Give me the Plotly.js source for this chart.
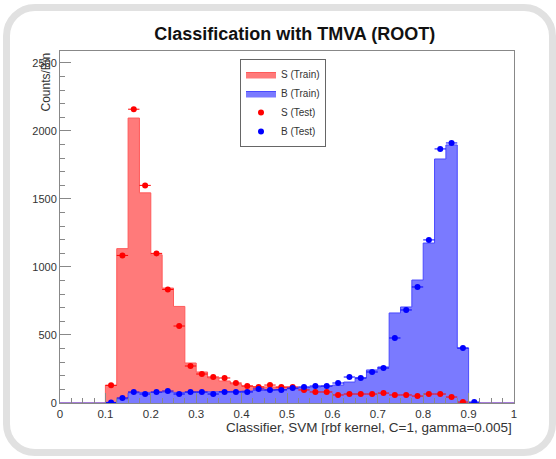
<!DOCTYPE html>
<html>
<head>
<meta charset="utf-8">
<script src="https://cdn.plot.ly/plotly-3.0.1.min.js"></script>
<style>
  html, body { margin: 0; padding: 0; background: #ffffff; }
  #wrap { position: relative; width: 556px; height: 459px; overflow: hidden; background: #fff; }
  #chart { position: absolute; left: 0; top: 0; width: 556px; height: 459px; }
  #frame { position: absolute; left: 3px; top: 4px; width: 553px; height: 452px; box-sizing: border-box;
           border: 7px solid #e1e1e1; border-radius: 32px; pointer-events: none; }
</style>
</head>
<body>
<div id="wrap">
  <div id="chart"></div>
  <div id="frame"></div>
</div>
<script>
// Histogram binning: 40 bins over classifier range [0, 1]
const nBins = 40;
const xMin = 0;
const xMax = 1;

// Signal training histogram (counts per bin, bins 0..39)
const sTrain = [0, 0, 0, 0, 130, 1135, 2095, 1545, 1090, 845,
                710, 294, 228, 184, 162, 140, 125, 118, 118, 114,
                110, 103, 95, 88, 78, 70, 68, 66, 66, 62,
                60, 58, 60, 60, 45, 10, 0, 0, 0, 0];

// Background training histogram
const bTrain = [0, 0, 0, 0, 5, 30, 75, 78, 78, 80,
                78, 80, 80, 82, 84, 86, 88, 92, 95, 100,
                105, 112, 118, 125, 132, 154, 184, 243, 265, 662,
                706, 904, 1176, 1794, 1897, 404, 3, 0, 0, 0];

// Signal test histogram (points)
const sTest = [null, null, null, null, 130, 1085, 2160, 1600, 1100, 835,
               566, 272, 213, 191, 184, 147, 125, 118, 132, 118,
               118, 96, 81, 81, 59, 66, 66, 66, 73, 59,
               59, 51, 66, 66, 44, 7, null, null, null, null];

// Background test histogram (points)
const bTest = [null, null, null, null, 3, 37, 81, 66, 81, 88,
               66, 81, 81, 66, 81, 81, 81, 103, 96, 96,
               110, 118, 125, 125, 147, 191, 184, 228, 257, 478,
               684, 853, 1199, 1868, 1912, 404, 7, null, null, null];

const legendNames = ["S (Train)", "B (Train)", "S (Test)", "B (Test)"];
const xTickVals = [0, 0.1, 0.2, 0.3, 0.4, 0.5, 0.6, 0.7, 0.8, 0.9, 1];
const xTickText = ["0", "0.1", "0.2", "0.3", "0.4", "0.5", "0.6", "0.7", "0.8", "0.9", "1"];
const yTickVals = [0, 500, 1000, 1500, 2000, 2500];
const yTickText = ["0", "500", "1000", "1500", "2000", "2500"];

const binW = (xMax - xMin) / nBins;
const edges = Array.from({length: nBins + 1}, (_, i) => xMin + i * binW);
const centers = Array.from({length: nBins}, (_, i) => xMin + (i + 0.5) * binW);
const stepY = arr => arr.concat([arr[arr.length - 1]]);

const FONT = "Liberation Sans, Arial, Helvetica, sans-serif";

const traces = [
  {
    type: "scatter", mode: "lines", name: legendNames[0],
    x: edges, y: stepY(sTrain),
    line: {shape: "hv", color: "#ff5a5a", width: 1},
    fill: "tozeroy", fillcolor: "#ff7a7a"
  },
  {
    type: "scatter", mode: "lines", name: legendNames[1],
    x: edges, y: stepY(bTrain),
    line: {shape: "hv", color: "#4a4aff", width: 1},
    fill: "tozeroy", fillcolor: "#7a7aff"
  },
  {
    type: "scatter", mode: "markers", name: legendNames[2],
    x: centers, y: sTest,
    marker: {color: "#ff0000", size: 6, symbol: "circle"},
    error_x: {type: "constant", value: binW / 2, color: "#ff0000", thickness: 1, width: 0}
  },
  {
    type: "scatter", mode: "markers", name: legendNames[3],
    x: centers, y: bTest,
    marker: {color: "#0000ff", size: 6, symbol: "circle"},
    error_x: {type: "constant", value: binW / 2, color: "#0000ff", thickness: 1, width: 0}
  }
];

const layout = {
  width: 556, height: 459,
  paper_bgcolor: "#ffffff", plot_bgcolor: "#ffffff",
  margin: {l: 60, r: 42, t: 51, b: 56, pad: 0},
  font: {family: FONT, size: 11, color: "#333"},
  title: {
    text: "<b>Classification with TMVA (ROOT)</b>",
    font: {family: FONT, size: 18, color: "#111"},
    x: 0.53, xref: "container", xanchor: "center",
    y: 1 - 34 / 459, yref: "container", yanchor: "middle"
  },
  showlegend: true,
  legend: {
    x: (240 - 60) / 454, xanchor: "left",
    y: 1 - 8 / 352, yanchor: "top",
    bgcolor: "#ffffff", bordercolor: "#666", borderwidth: 1,
    font: {family: FONT, size: 10, color: "#333"},
    tracegroupgap: 0, itemwidth: 30
  },
  xaxis: {
    range: [xMin, xMax], showgrid: false, zeroline: false,
    showline: true, linecolor: "#888", linewidth: 1, mirror: true,
    ticks: "inside", ticklen: 10, tickcolor: "#888",
    tickvals: xTickVals, ticktext: xTickText,
    tickfont: {family: FONT, size: 11.5, color: "#333"},
    minor: {dtick: 0.025, ticks: "inside", ticklen: 5, tickcolor: "#888", showgrid: false}
  },
  yaxis: {
    range: [0, 2588], showgrid: false, zeroline: false,
    showline: true, linecolor: "#888", linewidth: 1, mirror: true,
    ticks: "inside", ticklen: 11, tickcolor: "#888",
    tickvals: yTickVals, ticktext: yTickText,
    tickfont: {family: FONT, size: 11, color: "#333"},
    minor: {dtick: 100, ticks: "inside", ticklen: 5, tickcolor: "#888", showgrid: false}
  },
  annotations: [
    {
      text: "Classifier, SVM [rbf kernel, C=1, gamma=0.005]",
      xref: "paper", yref: "paper", x: 1, xanchor: "right",
      y: -24 / 352, yanchor: "middle", showarrow: false,
      font: {family: FONT, size: 13.5, color: "#333"}
    },
    {
      text: "Counts/Bin",
      xref: "paper", yref: "paper", x: -15 / 454, xanchor: "center",
      y: 1, yanchor: "top", textangle: -90, showarrow: false,
      font: {family: FONT, size: 12, color: "#333"}
    }
  ]
};

Plotly.newPlot("chart", traces, layout, {displayModeBar: false, staticPlot: true});
</script>
</body>
</html>
